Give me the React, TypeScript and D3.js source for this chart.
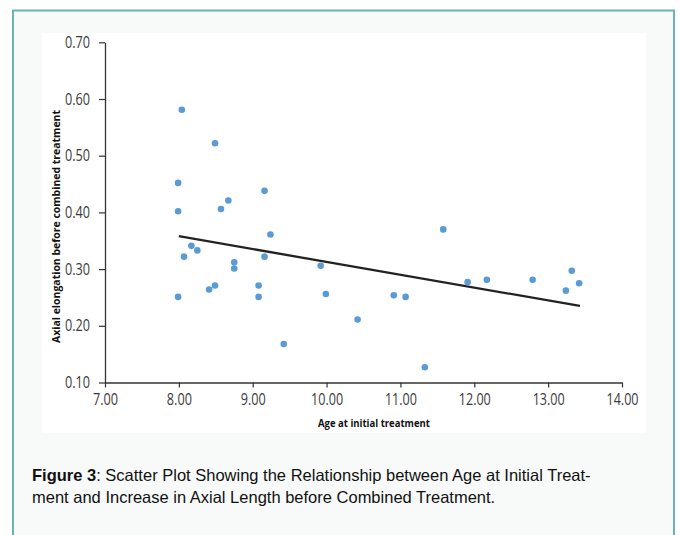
import React, { useEffect, useRef } from "react";
import * as d3 from "d3";

// ages at initial treatment (years)
const ages = [
  8.04, 8.49, 7.99, 7.99, 8.57, 8.67, 9.16, 9.24, 8.07, 8.17, 8.25,
  7.99, 8.41, 8.49, 8.75, 8.75, 9.08, 9.08, 9.16, 9.42, 9.92, 9.99,
  10.42, 10.91, 11.07, 11.33, 11.58, 11.91, 12.17, 12.79, 13.24, 13.32, 13.42,
];
// axial elongation before combined treatment (mm)
const elongation = [
  0.581, 0.522, 0.452, 0.402, 0.406, 0.421, 0.438, 0.361, 0.322, 0.341, 0.333,
  0.251, 0.264, 0.271, 0.312, 0.301, 0.271, 0.251, 0.322, 0.168, 0.306, 0.256,
  0.211, 0.254, 0.251, 0.127, 0.370, 0.277, 0.281, 0.281, 0.262, 0.297, 0.275,
];
// linear trend line end points
const trendX = [8.0, 13.43];
const trendY = [0.358, 0.235];

const xTicks = [7, 8, 9, 10, 11, 12, 13, 14];
const yTicks = [0.1, 0.2, 0.3, 0.4, 0.5, 0.6, 0.7];

const W = 682;
const H = 535;
const tickFont = "'Open Sans', 'Noto Sans', sans-serif";

export default function App() {
  const ref = useRef<SVGSVGElement>(null);

  useEffect(() => {
    const svg = d3.select(ref.current);
    svg.selectAll("*").remove();

    const x = d3.scaleLinear().domain([7, 14]).range([105, 622]);
    const y = d3.scaleLinear().domain([0.1, 0.7]).range([382.5, 42.3]);

    // outer framed box
    svg.append("rect")
      .attr("x", 13).attr("y", 10.5)
      .attr("width", 661).attr("height", 545)
      .attr("fill", "#f8fafa")
      .attr("stroke", "#6db3b3")
      .attr("stroke-width", 2);

    // white chart area
    svg.append("rect")
      .attr("x", 42).attr("y", 33)
      .attr("width", 604).attr("height", 400)
      .attr("fill", "#ffffff");

    // Y Axis
    const yAxis = svg.append("g")
      .attr("transform", `translate(${x(7)},0)`)
      .call(d3.axisLeft(y).tickValues(yTicks).tickSize(6).tickSizeOuter(0).tickPadding(9).tickFormat(d3.format(".2f")));

    // X Axis
    const xAxis = svg.append("g")
      .attr("transform", `translate(0,${y(0.1)})`)
      .call(d3.axisBottom(x).tickValues(xTicks).tickSize(5).tickSizeOuter(0).tickPadding(6).tickFormat(d3.format(".2f")));

    [xAxis, yAxis].forEach(g => {
      g.select(".domain").attr("stroke", "#333").attr("stroke-width", 1.3);
      g.selectAll(".tick line").attr("stroke", "#333").attr("stroke-width", 1.2);
      g.selectAll<SVGTextElement, number>(".tick text")
        .attr("fill", "#3a3a3a")
        .attr("textLength", function () { return (this.textContent || "").length > 4 ? 32 : 25; })
        .attr("lengthAdjust", "spacingAndGlyphs")
        .style("font-family", tickFont)
        .style("font-size", "16px");
    });

    // trend line
    const trend = trendX.map((v, i) => [v, trendY[i]] as [number, number]);
    svg.append("path")
      .datum(trend)
      .attr("d", d3.line<[number, number]>().x(d => x(d[0])).y(d => y(d[1])))
      .attr("fill", "none")
      .attr("stroke", "#222")
      .attr("stroke-width", 2.3);

    // points
    svg.append("g")
      .selectAll("circle")
      .data(ages.map((a, i) => ({ a, e: elongation[i] })))
      .join("circle")
      .attr("cx", d => x(d.a))
      .attr("cy", d => y(d.e))
      .attr("r", 3.3)
      .attr("fill", "#5a9bd3");

    // axis titles
    svg.append("text")
      .attr("transform", "translate(60,226.5) rotate(-90)")
      .attr("text-anchor", "middle")
      .attr("textLength", 233)
      .attr("lengthAdjust", "spacingAndGlyphs")
      .style("font-family", tickFont)
      .style("font-weight", "bold")
      .style("font-size", "11px")
      .attr("fill", "#111")
      .text("Axial elongation before combined treatment");

    svg.append("text")
      .attr("x", 374).attr("y", 427)
      .attr("text-anchor", "middle")
      .attr("textLength", 112)
      .attr("lengthAdjust", "spacingAndGlyphs")
      .style("font-family", tickFont)
      .style("font-weight", "bold")
      .style("font-size", "11px")
      .attr("fill", "#111")
      .text("Age at initial treatment");

    // caption
    const cap = svg.append("g")
      .style("font-family", "'Liberation Sans', Arial, sans-serif")
      .style("font-size", "16.5px")
      .attr("fill", "#111");
    const l1 = cap.append("text").attr("x", 32).attr("y", 481);
    l1.append("tspan").style("font-weight", "bold").text("Figure 3");
    l1.append("tspan").text(": Scatter Plot Showing the Relationship between Age at Initial Treat-");
    cap.append("text").attr("x", 32).attr("y", 503)
      .text("ment and Increase in Axial Length before Combined Treatment.");
  }, []);

  return (
    <svg
      ref={ref}
      width={W}
      height={H}
      style={{ position: "absolute", left: 0, top: 0, background: "#ffffff" }}
    />
  );
}
